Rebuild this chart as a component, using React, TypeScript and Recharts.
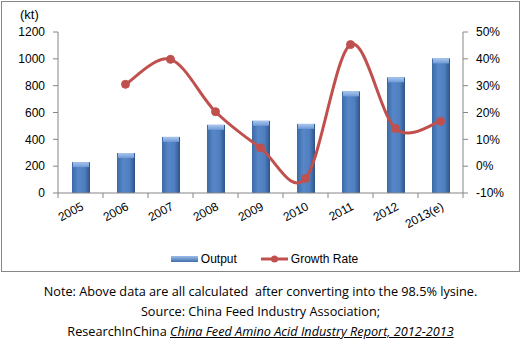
import { ComposedChart, Bar, Line, XAxis, YAxis } from "recharts";

// lysine output (kt) and yoy growth, 2005-2013(e)
const years = ["2005", "2006", "2007", "2008", "2009", "2010", "2011", "2012", "2013(e)"];
const output = [230, 298, 418, 508, 538, 515, 757, 862, 1003];
const growth = [null, 0.305, 0.398, 0.203, 0.068, -0.046, 0.453, 0.14, 0.167];
const leftTicks = [0, 200, 400, 600, 800, 1000, 1200];
const rightTicks = [-0.1, 0, 0.1, 0.2, 0.3, 0.4, 0.5];

const data = years.map((year, i) => ({ year, output: output[i], growth: growth[i] }));

const FONT = "'Liberation Sans', Arial, sans-serif";
const NOTE_FONT = "'Open Sans', 'Liberation Sans', sans-serif";
const AXIS = "#868686";
const RED = "#C0504D";

// Excel-style smoothed line (catmull-rom bezier through every point)
function excelCurve(ctx: any) {
  let pts: number[][] = [];
  return {
    areaStart() {},
    areaEnd() {},
    lineStart() { pts = []; },
    point(x: number, y: number) { pts.push([+x, +y]); },
    lineEnd() {
      const n = pts.length;
      if (!n) return;
      ctx.moveTo(pts[0][0], pts[0][1]);
      for (let i = 0; i < n - 1; i++) {
        const p0 = pts[Math.max(i - 1, 0)], p1 = pts[i], p2 = pts[i + 1], p3 = pts[Math.min(i + 2, n - 1)];
        ctx.bezierCurveTo(
          p1[0] + (p2[0] - p0[0]) / 6, p1[1] + (p2[1] - p0[1]) / 6,
          p2[0] - (p3[0] - p1[0]) / 6, p2[1] - (p3[1] - p1[1]) / 6,
          p2[0], p2[1]
        );
      }
    },
  };
}

function BarShape(props: any) {
  const { x, y, width, height } = props;
  if (!height || height <= 0) return null;
  return (
    <g>
      <rect x={x} y={y} width={width} height={height} fill="url(#barBody)" />
      <rect x={x + 1} y={y} width={width - 2} height={5} fill="url(#barCap)" />
    </g>
  );
}

function YearTick(props: any) {
  const { x, y, payload, index, visibleTicksCount } = props;
  const half = payload?.offset ?? 22.4;
  const axisY = y - 8;
  return (
    <g>
      <line x1={x - half} x2={x - half} y1={axisY} y2={axisY + 5} stroke={AXIS} />
      {index === visibleTicksCount - 1 && (
        <line x1={x + half} x2={x + half} y1={axisY} y2={axisY + 5} stroke={AXIS} />
      )}
      <text x={x + 4} y={y + 8} textAnchor="end" transform={`rotate(-28 ${x + 4} ${y + 8})`}
        fontSize={12} fontFamily={FONT} fill="#000">
        {payload.value}
      </text>
    </g>
  );
}

export default function App() {
  return (
    <div style={{ position: "absolute", left: 0, top: 0, width: 521, height: 340, background: "#fff", fontFamily: FONT }}>
      <div style={{ position: "absolute", left: 1, top: 1, width: 517, height: 269, border: `1px solid ${AXIS}` }} />
      <div style={{ position: "absolute", left: 20, top: 7, fontSize: 13, color: "#000" }}>(kt)</div>
      <div style={{ position: "absolute", left: 1, top: 1 }}>
        <ComposedChart width={519} height={270} data={data} margin={{ top: 31, right: 0, bottom: 28, left: 0 }}>
          <defs>
            <linearGradient id="barBody" x1="0" y1="0" x2="1" y2="0">
              <stop offset="0" stopColor="#3b6aa6" />
              <stop offset="0.35" stopColor="#5887c8" />
              <stop offset="0.7" stopColor="#4f7fc0" />
              <stop offset="1" stopColor="#2e5487" />
            </linearGradient>
            <linearGradient id="barCap" x1="0" y1="0" x2="0" y2="1">
              <stop offset="0" stopColor="#a9c6ee" />
              <stop offset="1" stopColor="#6f9ad6" />
            </linearGradient>
          </defs>
          <XAxis dataKey="year" height={50} interval={0} stroke={AXIS} tickLine={false} tick={<YearTick />} />
          <YAxis yAxisId="kt" width={57} domain={[0, 1200]} ticks={leftTicks} stroke={AXIS}
            tickSize={5} tickMargin={8} tick={{ fill: "#000", fontSize: 12, fontFamily: FONT }} />
          <YAxis yAxisId="pct" orientation="right" width={57} domain={[-0.1, 0.5]} ticks={rightTicks}
            stroke={AXIS} tickSize={5} tickMargin={8}
            tickFormatter={(v: number) => `${Math.round(v * 100)}%`}
            tick={{ fill: "#000", fontSize: 12, fontFamily: FONT, textAnchor: "start" }} />
          <Bar yAxisId="kt" dataKey="output" barSize={18} shape={<BarShape />} isAnimationActive={false} />
          <Line yAxisId="pct" dataKey="growth" type={excelCurve as any} stroke={RED} strokeWidth={3}
            dot={{ r: 4, fill: RED, stroke: RED, strokeWidth: 1 }} isAnimationActive={false} />
        </ComposedChart>
      </div>
      {/* legend */}
      <div style={{ position: "absolute", left: 4, top: 252, width: 521, display: "flex", justifyContent: "center", alignItems: "center", fontSize: 12, color: "#000" }}>
        <svg width={27} height={8} style={{ marginRight: 3 }}>
          <rect x={0} y={1} width={27} height={6} fill="url(#legBar)" />
          <defs>
            <linearGradient id="legBar" x1="0" y1="0" x2="0" y2="1">
              <stop offset="0" stopColor="#9dbde8" />
              <stop offset="1" stopColor="#3f6fae" />
            </linearGradient>
          </defs>
        </svg>
        <span style={{ marginRight: 24 }}>Output</span>
        <svg width={27} height={10} style={{ marginRight: 3 }}>
          <line x1={0} x2={27} y1={5} y2={5} stroke={RED} strokeWidth={3} />
          <circle cx={13.5} cy={5} r={3.5} fill={RED} />
        </svg>
        <span>Growth Rate</span>
      </div>
      {/* source notes */}
      <div style={{ position: "absolute", left: 0, top: 281, width: 521, textAlign: "center", fontFamily: NOTE_FONT, fontSize: 12.7, lineHeight: "20px", color: "#000" }}>
        <div style={{ whiteSpace: "pre" }}>Note: Above data are all calculated  after converting into the 98.5% lysine.</div>
        <div>Source: China Feed Industry Association;</div>
        <div>ResearchInChina <i style={{ textDecoration: "underline" }}>China Feed Amino Acid Industry Report, 2012-2013</i></div>
      </div>
    </div>
  );
}
